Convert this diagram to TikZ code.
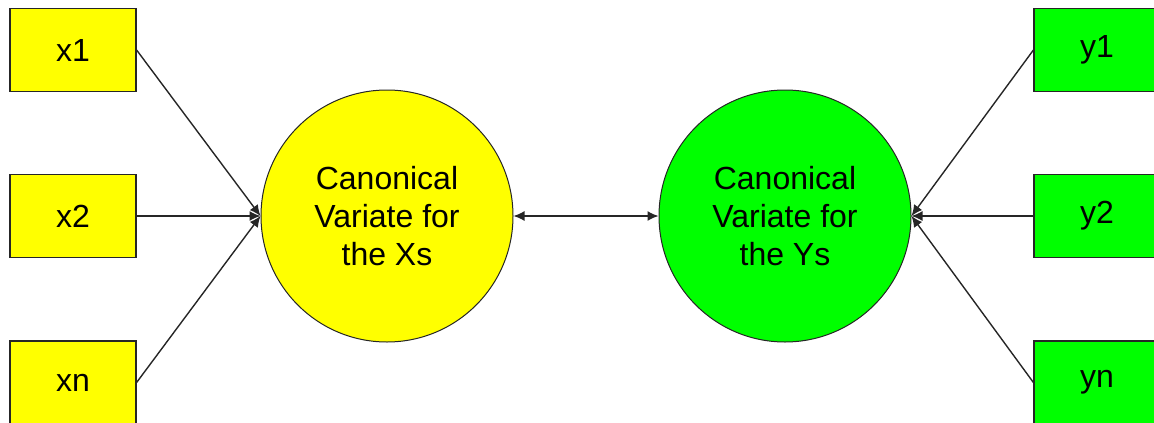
\documentclass[tikz,border=0pt]{standalone}
\usepackage{fontspec}
\setmainfont{Liberation Sans}
\usetikzlibrary{arrows.meta}
\definecolor{boxyellow}{HTML}{FFFF00}
\definecolor{boxgreen}{HTML}{00FF00}
\begin{document}
\begin{tikzpicture}[x=1pt,y=-1pt,
  obs/.style={draw=black!85, line width=1.2pt, minimum width=126pt, minimum height=83pt,
    inner sep=0pt, font=\fontsize{32}{38}\selectfont},
  latent/.style={circle, draw=black!85, line width=1pt, minimum size=252pt, inner sep=0pt,
    align=center, font=\fontsize{32}{38}\selectfont},
  link/.style={line width=1.4pt, draw=black!85, -{Latex[length=11pt,width=10pt]}},
  both/.style={line width=1.4pt, draw=black!85, {Latex[length=11pt,width=10pt]}-{Latex[length=11pt,width=10pt]}}]
  \useasboundingbox (0,0) rectangle (1154,423);

  % X side
  \node[obs, fill=boxyellow] (x1) at (73,50) {x1};
  \node[obs, fill=boxyellow] (x2) at (73,216) {x2};
  \node[obs, fill=boxyellow] (xn) at (73,382.5) {xn};
  \node[latent, fill=boxyellow] (cx) at (387,216) {Canonical\\Variate for\\the Xs};

  % Y side
  \node[obs, fill=boxgreen] (y1) at (1097,50) {y1};
  \node[obs, fill=boxgreen] (y2) at (1097,216) {y2};
  \node[obs, fill=boxgreen] (yn) at (1097,382.5) {yn};
  \node[latent, fill=boxgreen] (cy) at (785,216) {Canonical\\Variate for\\the Ys};

  % indicator paths
  \draw[link] (x1.east) -- (cx.west);
  \draw[link] (x2.east) -- (cx.west);
  \draw[link] (xn.east) -- (cx.west);
  \draw[link] (y1.west) -- (cy.east);
  \draw[link] (y2.west) -- (cy.east);
  \draw[link] (yn.west) -- (cy.east);

  % correlation between the variates
  \draw[both] (cx.east) -- (cy.west);
\end{tikzpicture}
\end{document}
